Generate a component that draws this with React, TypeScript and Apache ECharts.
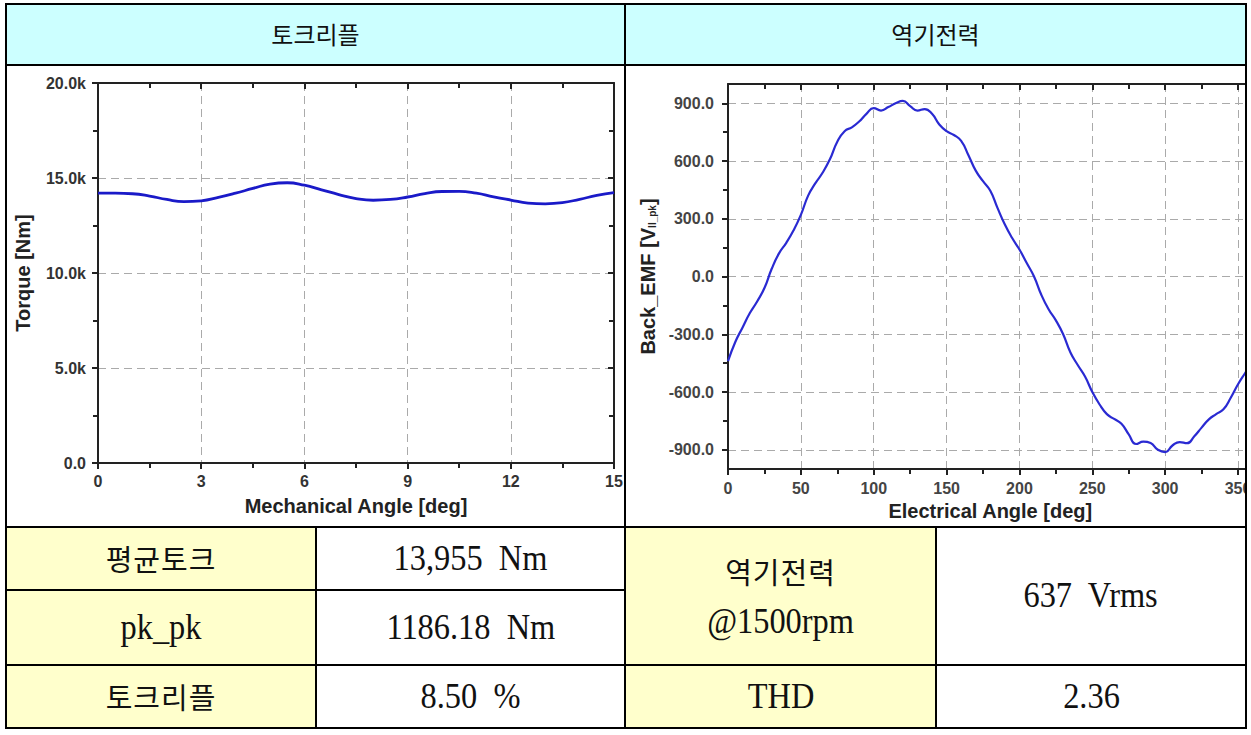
import React, { useEffect, useRef } from "react";
import * as echarts from "echarts";

// ---------------- data ----------------
const torqueAngles = [0, 0.5, 1, 1.5, 2, 2.5, 3, 3.5, 4, 4.5, 5, 5.5, 6, 6.5, 7, 7.5, 8, 8.5, 9, 9.5, 10, 10.5, 11, 11.5, 12, 12.5, 13, 13.5, 14, 14.5, 15];
const torqueValues = [14200, 14200, 14170, 14050, 13870, 13760, 13800, 13980, 14200, 14450, 14680, 14750, 14620, 14380, 14130, 13920, 13830, 13870, 14000, 14180, 14290, 14300, 14200, 14010, 13840, 13680, 13640, 13700, 13880, 14080, 14230];

const emfAngles = [0, 5, 10, 15, 20, 25, 30, 35, 40, 45, 50, 55, 60, 65, 70, 75, 80, 85, 90, 95, 100, 105, 110, 115, 120, 125, 130, 135, 140, 145, 150, 155, 160, 165, 170, 175, 180, 185, 190, 195, 200, 205, 210, 215, 220, 225, 230, 235, 240, 245, 250, 255, 260, 265, 270, 275, 280, 285, 290, 295, 300, 305, 310, 315, 320, 325, 330, 335, 340, 345, 350, 355, 360];
const emfValues = [-440, -340, -265, -190, -130, -60, 40, 120, 175, 240, 320, 420, 485, 540, 610, 700, 755, 775, 805, 845, 875, 862, 880, 900, 912, 885, 862, 870, 845, 790, 755, 735, 705, 630, 550, 495, 445, 355, 270, 200, 140, 70, 0, -95, -170, -228, -300, -395, -460, -520, -600, -665, -715, -740, -765, -820, -870, -858, -865, -900, -912, -878, -860, -866, -830, -785, -742, -715, -690, -630, -560, -500, -440];

const emfYTicks = [-900, -600, -300, 0, 300, 600, 900];
const emfYMinor = [-750, -450, -150, 150, 450, 750];

const headerTitles = ["토크리플", "역기전력"];
const leftRowLabels = ["평균토크", "pk_pk", "토크리플"];
const leftRowValues = ["13,955  Nm", "1186.18  Nm", "8.50  %"];
const emfLabelLines = ["역기전력", "@1500rpm"];
const emfValueText = "637  Vrms";
const thdLabel = "THD";
const thdValue = "2.36";

// ---------------- styles ----------------
const SANS = "'Liberation Sans', Arial, sans-serif";
const KR = "'Noto Sans CJK KR', sans-serif";
const SERIF = "'Liberation Serif', 'Times New Roman', serif";
const FRAME = "#222";
const GRID_LINE = { show: true, lineStyle: { color: "#aaaaaa", type: [8, 5] as any, width: 1 } };
const tickLabel = { fontFamily: SANS, fontWeight: "bold" as const, fontSize: 16, color: "#333" };
const nameStyle = { fontFamily: SANS, fontWeight: "bold" as const, fontSize: 20, color: "#222" };
const axisLine = { show: true, onZero: false, lineStyle: { color: FRAME, width: 2 } };

function torqueOption(): any {
  const xCommon = { type: "value", min: 0, max: 15, interval: 3 };
  const yCommon = { type: "value", min: 0, max: 20000, interval: 5000 };
  return {
    animation: false,
    grid: { left: 91, top: 17, width: 516, height: 380, containLabel: false, outerBoundsMode: "none" },
    xAxis: [
      {
        ...xCommon,
        position: "bottom",
        axisLine,
        axisTick: { show: true, inside: false, length: 6, lineStyle: { color: FRAME, width: 2 } },
        minorTick: { show: true, splitNumber: 2, length: 5, lineStyle: { color: FRAME, width: 2 } },
        splitLine: GRID_LINE,
        axisLabel: { ...tickLabel, margin: 10 },
        name: "Mechanical Angle [deg]",
        nameLocation: "middle",
        nameGap: 33,
        nameTextStyle: nameStyle,
      },
      {
        ...xCommon,
        position: "top",
        axisLine,
        axisTick: { show: true, inside: true, length: 6, lineStyle: { color: FRAME, width: 2 } },
        minorTick: { show: true, splitNumber: 2, length: 5, lineStyle: { color: FRAME, width: 2 } },
        splitLine: { show: false },
        axisLabel: { show: false },
      },
    ],
    yAxis: [
      {
        ...yCommon,
        position: "left",
        axisLine,
        axisTick: { show: true, inside: false, length: 6, lineStyle: { color: FRAME, width: 2 } },
        minorTick: { show: true, splitNumber: 2, length: 5, lineStyle: { color: FRAME, width: 2 } },
        splitLine: GRID_LINE,
        axisLabel: {
          ...tickLabel,
          margin: 12,
          formatter: (v: number) => (v === 0 ? "0.0" : (v / 1000).toFixed(1) + "k"),
        },
        name: "Torque [Nm]",
        nameLocation: "middle",
        nameGap: 65,
        nameTextStyle: nameStyle,
      },
      {
        ...yCommon,
        position: "right",
        axisLine,
        axisTick: { show: true, inside: true, length: 6, lineStyle: { color: FRAME, width: 2 } },
        minorTick: { show: true, splitNumber: 2, length: 5, lineStyle: { color: FRAME, width: 2 } },
        splitLine: { show: false },
        axisLabel: { show: false },
      },
    ],
    series: [
      {
        type: "line",
        xAxisIndex: 0,
        yAxisIndex: 0,
        data: torqueAngles.map((a, i) => [a, torqueValues[i]]),
        smooth: true,
        showSymbol: false,
        lineStyle: { color: "#1a1ac8", width: 2.8 },
      },
    ],
  };
}

function emfOption(): any {
  const xCommon = { type: "value", min: 0, max: 360, interval: 50 };
  const yCommon = { type: "value", min: -1000, max: 1000 };
  const allY = [...emfYTicks, ...emfYMinor];
  return {
    animation: false,
    grid: { left: 102, top: 18, width: 524.6, height: 385, containLabel: false, outerBoundsMode: "none" },
    xAxis: [
      {
        ...xCommon,
        position: "bottom",
        axisLine,
        axisTick: { show: true, inside: false, length: 6, lineStyle: { color: FRAME, width: 2 } },
        minorTick: { show: true, splitNumber: 2, length: 5, lineStyle: { color: FRAME, width: 2 } },
        splitLine: GRID_LINE,
        axisLabel: { ...tickLabel, color: "#444", margin: 11, showMaxLabel: false },
        name: "Electrical Angle [deg]",
        nameLocation: "middle",
        nameGap: 32,
        nameTextStyle: nameStyle,
      },
      {
        ...xCommon,
        position: "top",
        axisLine,
        axisTick: { show: true, inside: true, length: 6, lineStyle: { color: FRAME, width: 2 } },
        minorTick: { show: true, splitNumber: 2, length: 5, lineStyle: { color: FRAME, width: 2 } },
        splitLine: { show: false },
        axisLabel: { show: false },
      },
    ],
    yAxis: [
      {
        ...yCommon,
        position: "left",
        axisLine,
        axisTick: { show: true, inside: false, length: 6, customValues: emfYTicks, lineStyle: { color: FRAME, width: 2 } },
        splitLine: GRID_LINE,
        axisLabel: {
          ...tickLabel,
          color: "#444",
          margin: 14,
          customValues: emfYTicks,
          formatter: (v: number) => v.toFixed(1),
        },
        name: "{m|Back_EMF [V}{s|ll_pk}{m|]}",
        nameLocation: "middle",
        nameGap: 66,
        nameTextStyle: {
          ...nameStyle,
          rich: {
            m: { fontFamily: SANS, fontWeight: "bold", fontSize: 20, color: "#222" },
            s: { fontFamily: SANS, fontWeight: "bold", fontSize: 10, color: "#222", verticalAlign: "bottom", padding: [8, 0, 0, 0] },
          },
        },
      },
      {
        ...yCommon,
        position: "left",
        axisLine: { show: false, onZero: false },
        axisTick: { show: true, inside: false, length: 5, customValues: emfYMinor, lineStyle: { color: FRAME, width: 2 } },
        splitLine: { show: false },
        axisLabel: { show: false },
      },
      {
        ...yCommon,
        position: "right",
        axisLine,
        axisTick: { show: true, inside: true, length: 6, customValues: allY, lineStyle: { color: FRAME, width: 2 } },
        splitLine: { show: false },
        axisLabel: { show: false },
      },
    ],
    series: [
      {
        type: "line",
        xAxisIndex: 0,
        yAxisIndex: 0,
        data: emfAngles.map((a, i) => [a, emfValues[i]]),
        smooth: true,
        showSymbol: false,
        lineStyle: { color: "#2a2ad2", width: 2.2 },
      },
    ],
  };
}

function Chart({ option, width, height }: { option: any; width: number; height: number }) {
  const ref = useRef<HTMLDivElement>(null);
  useEffect(() => {
    if (!ref.current) return;
    const chart = echarts.init(ref.current, undefined, { renderer: "svg" });
    chart.setOption(option);
    return () => chart.dispose();
  }, []);
  return <div ref={ref} style={{ width, height }} />;
}

// ---------------- table geometry ----------------
const XL = 6, XM1 = 316, XM = 625, XM2 = 936, XR = 1246;
const YT = 4, YH = 65, YB = 527, Y1 = 590, Y2 = 665, YE = 728;
const LW = 2;

function HLine({ x1, x2, y }: { x1: number; x2: number; y: number }) {
  return <div style={{ position: "absolute", left: x1 - LW / 2, top: y - LW / 2, width: x2 - x1 + LW, height: LW, background: "#000" }} />;
}
function VLine({ x, y1, y2 }: { x: number; y1: number; y2: number }) {
  return <div style={{ position: "absolute", left: x - LW / 2, top: y1 - LW / 2, width: LW, height: y2 - y1 + LW, background: "#000" }} />;
}
function Cell({ x1, x2, y1, y2, bg, children }: any) {
  return (
    <div
      style={{
        position: "absolute",
        left: x1,
        top: y1,
        width: x2 - x1,
        height: y2 - y1,
        background: bg,
        display: "flex",
        flexDirection: "column",
        alignItems: "center",
        justifyContent: "center",
        color: "#111",
        whiteSpace: "pre",
      }}
    >
      {children}
    </div>
  );
}
const krText = (t: string, size = 29, spacing = 1) => (
  <span style={{ fontFamily: KR, fontSize: size, lineHeight: 1.2, letterSpacing: spacing }}>{t}</span>
);
const serifText = (t: string) => (
  <span style={{ fontFamily: SERIF, fontSize: 36, lineHeight: 1.2, display: "inline-block", transform: "scaleX(0.9)" }}>{t}</span>
);

export default function App() {
  const rowY = [[YB, Y1], [Y1, Y2], [Y2, YE]];
  return (
    <div style={{ position: "absolute", left: 0, top: 0, width: 1251, height: 735, background: "#fff", overflow: "hidden" }}>
      {/* header */}
      <Cell x1={XL} x2={XM} y1={YT} y2={YH} bg="#ccffff">{krText(headerTitles[0], 24, 0)}</Cell>
      <Cell x1={XM} x2={XR} y1={YT} y2={YH} bg="#ccffff">{krText(headerTitles[1], 24, 0)}</Cell>

      {/* charts */}
      <div style={{ position: "absolute", left: 7, top: 66, width: 617, height: 460 }}>
        <Chart option={torqueOption()} width={617} height={460} />
      </div>
      <div style={{ position: "absolute", left: 626, top: 66, width: 619, height: 460, overflow: "hidden" }}>
        <Chart option={emfOption()} width={640} height={460} />
      </div>

      {/* left table */}
      {rowY.map(([a, b], i) => (
        <React.Fragment key={i}>
          <Cell x1={XL} x2={XM1} y1={a} y2={b} bg="#ffffcc">
            {i === 1 ? serifText(leftRowLabels[i]) : krText(leftRowLabels[i])}
          </Cell>
          <Cell x1={XM1} x2={XM} y1={a} y2={b} bg="#fff">{serifText(leftRowValues[i])}</Cell>
        </React.Fragment>
      ))}

      {/* right table */}
      <Cell x1={XM} x2={XM2} y1={YB} y2={Y2} bg="#ffffcc">
        <div style={{ fontFamily: KR, fontSize: 29, letterSpacing: 1, lineHeight: "50px" }}>{emfLabelLines[0]}</div>
        <div style={{ fontFamily: SERIF, fontSize: 36, lineHeight: "50px", transform: "scaleX(0.9)" }}>{emfLabelLines[1]}</div>
      </Cell>
      <Cell x1={XM2} x2={XR} y1={YB} y2={Y2} bg="#fff">{serifText(emfValueText)}</Cell>
      <Cell x1={XM} x2={XM2} y1={Y2} y2={YE} bg="#ffffcc">{serifText(thdLabel)}</Cell>
      <Cell x1={XM2} x2={XR} y1={Y2} y2={YE} bg="#fff">{serifText(thdValue)}</Cell>

      {/* grid lines */}
      <HLine x1={XL} x2={XR} y={YT} />
      <HLine x1={XL} x2={XR} y={YH} />
      <HLine x1={XL} x2={XR} y={YB} />
      <HLine x1={XL} x2={XM} y={Y1} />
      <HLine x1={XL} x2={XR} y={Y2} />
      <HLine x1={XL} x2={XR} y={YE} />
      <VLine x={XL} y1={YT} y2={YE} />
      <VLine x={XM} y1={YT} y2={YE} />
      <VLine x={XR} y1={YT} y2={YE} />
      <VLine x={XM1} y1={YB} y2={YE} />
      <VLine x={XM2} y1={YB} y2={YE} />
    </div>
  );
}
